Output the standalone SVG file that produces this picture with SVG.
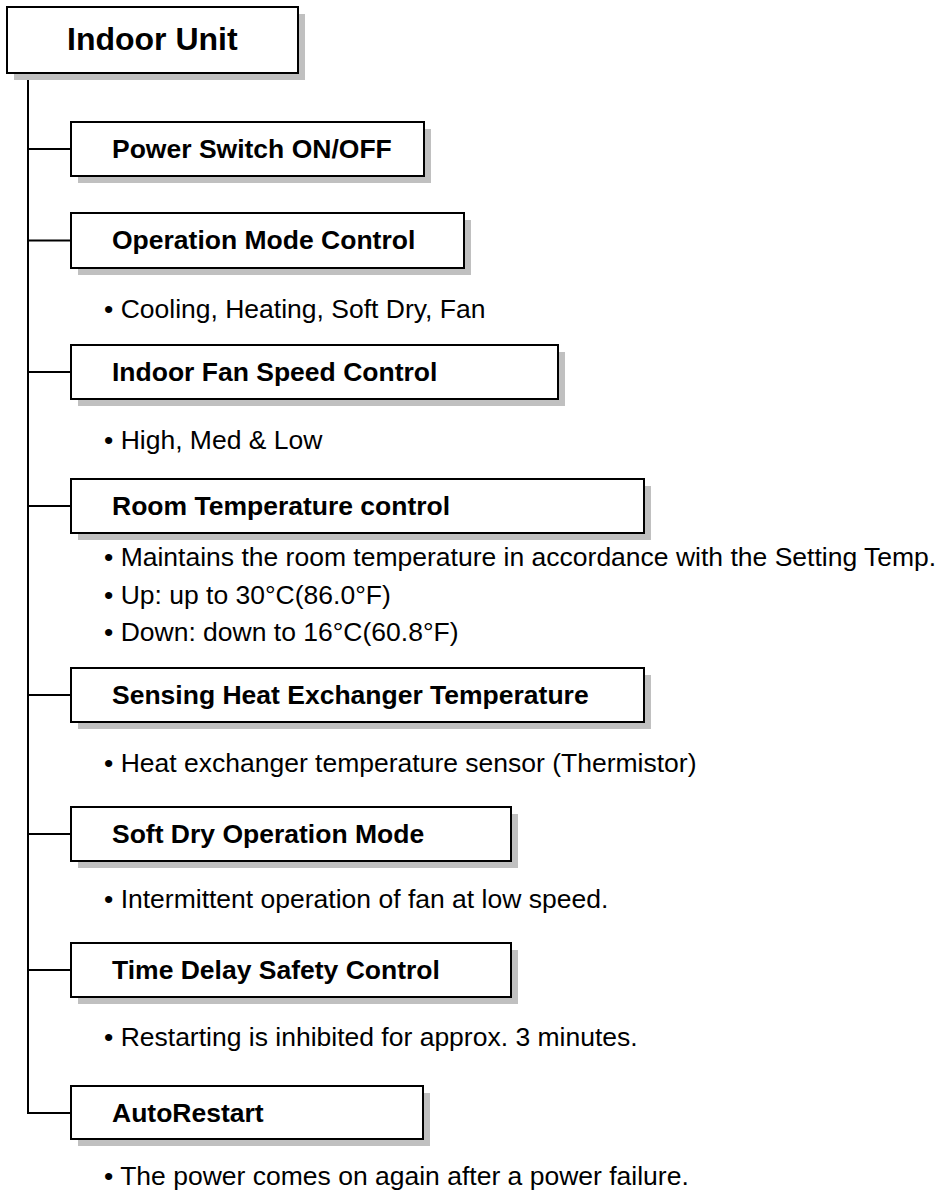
<svg xmlns="http://www.w3.org/2000/svg" width="945" height="1191" viewBox="0 0 945 1191">
<style>
.shadow{fill:#c0c0c0;stroke:none}
.box{fill:#ffffff;stroke:#000000;stroke-width:2}
.lbl{font-family:"Liberation Sans",Arial,sans-serif;font-weight:bold;font-size:26.5px;fill:#000}
.title{font-family:"Liberation Sans",Arial,sans-serif;font-weight:bold;font-size:32px;fill:#000}
.bul{font-family:"Liberation Sans",Arial,sans-serif;font-size:26.5px;fill:#000}
.wire{stroke:#000;stroke-width:2;fill:none}
</style>
<rect width="945" height="1191" fill="#ffffff"/>
<g id="connectors">
<path class="wire" d="M28,73 V1113 H71"/>
<path class="wire" d="M28,149 H71 M28,240.5 H71 M28,372 H71 M28,506 H71 M28,695 H71 M28,834 H71 M28,970 H71"/>
</g>
<g id="indoor-unit">
<rect class="shadow" x="14" y="14" width="291" height="66"/>
<rect class="box" x="7" y="7" width="291" height="66"/>
<text class="title" x="67" y="50">Indoor Unit</text>
</g>
<g id="power-switch">
<rect class="shadow" x="78" y="129" width="353" height="54"/>
<rect class="box" x="71" y="122" width="353" height="54"/>
<text class="lbl" x="112" y="158">Power Switch ON/OFF</text>
</g>
<g id="operation-mode">
<rect class="shadow" x="78" y="220" width="393" height="55"/>
<rect class="box" x="71" y="213" width="393" height="55"/>
<text class="lbl" x="112" y="249">Operation Mode Control</text>
<text class="bul" x="104" y="318">• Cooling, Heating, Soft Dry, Fan</text>
</g>
<g id="fan-speed">
<rect class="shadow" x="78" y="352" width="487" height="54"/>
<rect class="box" x="71" y="345" width="487" height="54"/>
<text class="lbl" x="112" y="381">Indoor Fan Speed Control</text>
<text class="bul" x="104" y="449">• High, Med &amp; Low</text>
</g>
<g id="room-temp">
<rect class="shadow" x="78" y="486" width="573" height="54"/>
<rect class="box" x="71" y="479" width="573" height="54"/>
<text class="lbl" x="112" y="515">Room Temperature control</text>
<text class="bul" x="104" y="566">• Maintains the room temperature in accordance with the Setting Temp.</text>
<text class="bul" x="104" y="604">• Up: up to 30°C(86.0°F)</text>
<text class="bul" x="104" y="641">• Down: down to 16°C(60.8°F)</text>
</g>
<g id="sensing-heat">
<rect class="shadow" x="78" y="675" width="573" height="54"/>
<rect class="box" x="71" y="668" width="573" height="54"/>
<text class="lbl" x="112" y="704">Sensing Heat Exchanger Temperature</text>
<text class="bul" x="104" y="772">• Heat exchanger temperature sensor (Thermistor)</text>
</g>
<g id="soft-dry">
<rect class="shadow" x="78" y="814" width="440" height="54"/>
<rect class="box" x="71" y="807" width="440" height="54"/>
<text class="lbl" x="112" y="843">Soft Dry Operation Mode</text>
<text class="bul" x="104" y="908">• Intermittent operation of fan at low speed.</text>
</g>
<g id="time-delay">
<rect class="shadow" x="78" y="950" width="440" height="54"/>
<rect class="box" x="71" y="943" width="440" height="54"/>
<text class="lbl" x="112" y="979">Time Delay Safety Control</text>
<text class="bul" x="104" y="1046">• Restarting is inhibited for approx. 3 minutes.</text>
</g>
<g id="autorestart">
<rect class="shadow" x="78" y="1093" width="352" height="53"/>
<rect class="box" x="71" y="1086" width="352" height="53"/>
<text class="lbl" x="112" y="1122">AutoRestart</text>
<text class="bul" x="104" y="1185">• The power comes on again after a power failure.</text>
</g>
</svg>
